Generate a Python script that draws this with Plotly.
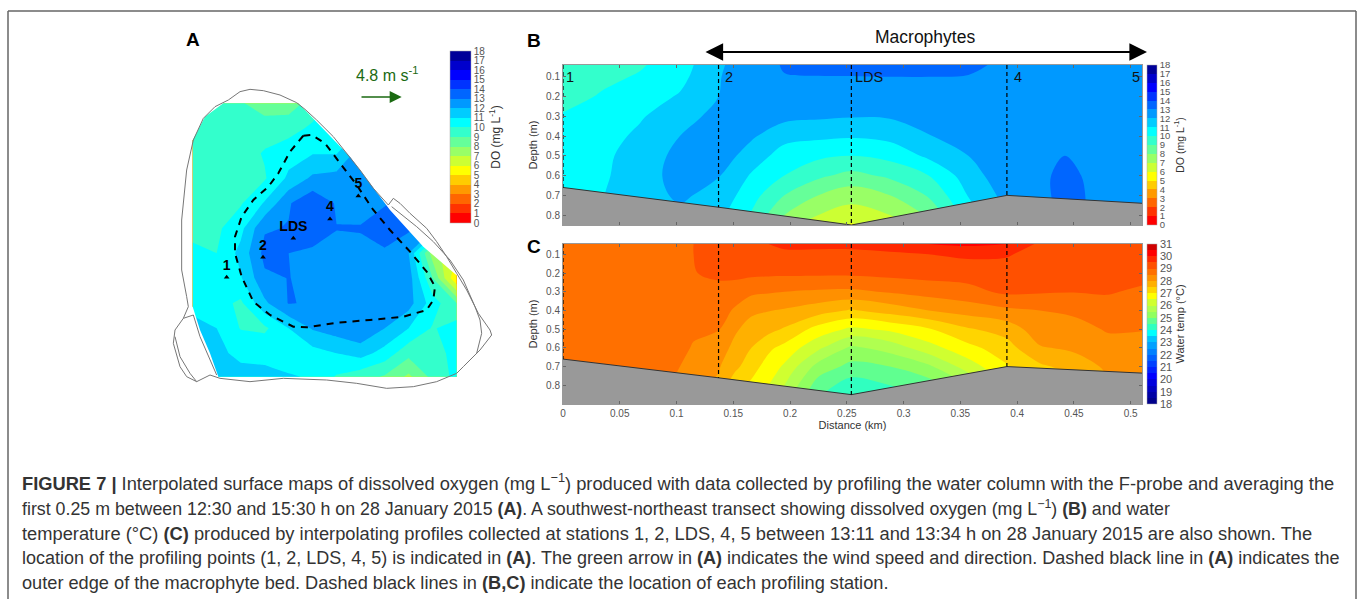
import plotly.graph_objects as go

W, H = 1362, 599

# ---- Panel A data (map units) ----
map_x = [68, 140, 212, 284, 356, 428, 500, 572, 644, 716, 788, 860]
map_y = [250, 325, 400, 475, 550, 625, 700, 775, 850, 925, 1000, 1070]
map_do = [
    [9.5, 9.5, 9.1, 8.5, 8.5, 9.4, 10.5, 11, 11, 11, 11, 11],
    [9.5, 9.5, 9.5, 9.5, 9.6, 10.2, 10.8, 11, 11.5, 12, 12, 12],
    [9.4, 9.4, 9.5, 10.1, 10.6, 10.95, 10.95, 12.5, 13, 13, 13, 13],
    [9.5, 9.5, 9.5, 9.9, 11.2, 12.2, 12.4, 12.8, 13, 13, 13, 13],
    [9.5, 9.5, 9.9, 11.1, 12.9, 13.8, 12.9, 12.7, 12.9, 13.5, 13.5, 13.5],
    [9.6, 9.8, 10.7, 12.9, 13.05, 13.3, 13.02, 13.05, 13.7, 13.2, 12.5, 12],
    [10.3, 10.0, 11.3, 13.3, 13.0, 12.9, 12.8, 12.8, 12.8, 12.0, 7.5, 6],
    [10.6, 10.0, 10.9, 12.8, 13.02, 12.8, 12.8, 12.8, 12.8, 12.5, 9.0, 5.0],
    [10.8, 10.4, 9.8, 11.8, 13.05, 12.9, 12.8, 12.8, 12.7, 12.4, 10.5, 9.0],
    [11.2, 11.0, 9.95, 9.8, 11.0, 12.1, 12.5, 12.9, 12.0, 11.0, 9.9, 10.5],
    [11.5, 11.2, 10.8, 10.8, 10.4, 10.6, 11.0, 11.4, 10.6, 9.3, 9.5, 10.4],
    [11.5, 11.5, 11.3, 11.2, 11.1, 10.9, 9.9, 9.4, 8.9, 7.8, 9.3, 10.3],
]
shore_x = [240,280,330,380,405,440,490,530,570,610,655,670,690,720,770,800,830,860,890,925,960,965,930,880,860,800,730,650,560,470,340,240,150,120,80,50,30,10,15,40,55,50,35,35,50,70,100,135,175,210,240]
shore_y = [208,212,225,248,268,300,350,400,450,505,555,535,550,580,625,665,710,760,810,880,930,945,990,1040,1060,1085,1100,1105,1090,1080,1075,1085,1075,1065,1085,1070,1040,970,930,895,860,830,750,600,450,360,295,260,240,215,208]
shore2_x = [665,740,790,840,880,915,930,935,920,890]
shore2_y = [560,620,665,720,780,860,900,940,1000,1030]
shore3_x = [40,70,90,120,140]
shore3_y = [895,885,950,1020,1065]
shore4_x = [15,30,60,80]
shore4_y = [950,1010,1060,1085]
bed_x = [400,425,465,510,560,610,660,720,770,795,790,770,700,600,500,410,370,300,250,215,195,195,215,250,295,325,360,400]
bed_y = [347,345,370,430,495,570,630,695,755,800,840,870,890,900,908,922,920,885,845,770,700,650,590,540,500,460,395,347]
station_names = ["1", "2", "LDS", "4", "5"]
station_map_x = [170, 279, 370, 480, 565]
station_map_y = [772, 712, 655, 597, 528]
mask_nw_x = [60,60,68,105,160,160]
mask_nw_y = [240,360,360,290,250,240]
mask_ne_x = [385,385,405,540,660,760,865,870]
mask_ne_y = [245,250,270,410,570,680,770,240]
mask_sw_x = [60,68,90,120,145,145,60]
mask_sw_y = [860,860,930,1000,1070,1080,1080]

# ---- Panel B data ----
station_km = [0, 0.137, 0.254, 0.391, 0.51]
bottom_b = [0.66, 0.76, 0.85, 0.70, 0.74]
bottom_c = [0.66, 0.76, 0.85, 0.70, 0.735]
do_x = [0, .034, .068, .103, .137, .166, .195, .225, .254, .288, .322, .357, .391, .425, .442, .46, .51]
do_depth = [.04, .1, .2, .3, .4, .5, .6, .7, .8, .85]
do_cols = [
    [9.2, 9.3, 9.6, 10.1, 10.3, 10.5, 10.6, 10.7, 10.8, 10.8],
    [9.5, 9.75, 10.1, 10.4, 10.6, 10.8, 10.85, 10.95, 11, 11],
    [9.9, 10.1, 10.5, 10.9, 11.2, 11.4, 11.5, 11.6, 11.6, 11.6],
    [10.5, 10.7, 11.1, 11.6, 12.0, 12.3, 12.4, 12.15, 11.8, 11.7],
    [11.9, 11.95, 12.0, 12.3, 12.6, 12.6, 12.05, 11.7, 11.3, 11.1],
    [12.4, 12.5, 12.6, 12.6, 12.15, 11.5, 10.9, 10.4, 9.9, 9.6],
    [13.1, 12.95, 12.8, 12.3, 11.3, 10.6, 10, 9, 8, 7.4],
    [13.3, 12.97, 12.7, 12.15, 11.2, 10.2, 9.2, 8, 7, 6.5],
    [13.4, 12.97, 12.7, 12.05, 11.1, 10, 8.7, 7.4, 6.5, 5.9],
    [13.4, 13.0, 12.8, 12.1, 11.3, 10.3, 9.2, 8, 7, 6.4],
    [13.4, 13.0, 12.9, 12.5, 11.95, 11.2, 10, 9.1, 8.1, 7.6],
    [13.1, 12.98, 12.9, 12.7, 12.4, 12, 11.5, 11.05, 10.5, 10],
    [12.9, 12.9, 12.9, 12.9, 12.85, 12.8, 12.7, 12.35, 12, 11.8],
    [12.85, 12.85, 12.85, 12.85, 12.88, 12.9, 12.95, 12.95, 12.9, 12.9],
    [12.85, 12.85, 12.85, 12.85, 12.9, 13.0, 13.12, 13.12, 13.1, 13.1],
    [12.8, 12.8, 12.8, 12.85, 12.88, 12.92, 12.97, 13.0, 13, 13],
    [12.7, 12.7, 12.7, 12.7, 12.7, 12.7, 12.7, 12.7, 12.7, 12.7],
]

# ---- Panel C data ----
temp_x = [0, .034, .068, .1, .115, .137, .151, .166, .181, .195, .225, .254, .288, .322, .357, .391, .42, .45, .48, .51]
temp_depth = [.045, .1, .2, .3, .4, .5, .6, .7, .8, .9]
temp_cols = [
    [28.8]*10,
    [28.8]*10,
    [28.8]*10,
    [28.9, 28.9, 28.9, 28.85, 28.8, 28.75, 28.7, 28.55, 28.4, 28.2],
    [29, 29, 28.98, 28.8, 28.7, 28.6, 28.45, 28.3, 28.2, 28.1],
    [29.3, 29.3, 29.1, 28.85, 28.7, 28.52, 28.3, 28.05, 27.9, 27.8],
    [29.4, 29.35, 29.15, 28.75, 28.45, 28.1, 27.85, 27.65, 27.2, 26.9],
    [29.5, 29.35, 29.12, 28.6, 28.12, 27.75, 27.5, 27.2, 26.9, 26.6],
    [29.5, 29.38, 29.1, 28.55, 28.02, 27.65, 27.1, 26.8, 26.5, 26.2],
    [29.6, 29.4, 29.1, 28.5, 27.95, 27.45, 26.85, 26.42, 26, 25.6],
    [29.6, 29.4, 29.1, 28.43, 27.72, 26.8, 26.1, 25.3, 24.75, 24.4],
    [29.6, 29.4, 29.1, 28.4, 27.45, 26.4, 25.4, 24.85, 24.25, 23.8],
    [29.8, 29.4, 29.15, 28.55, 27.72, 26.6, 25.7, 25.0, 24.5, 24.0],
    [30, 29.5, 29.2, 28.7, 28, 26.95, 26.3, 25.4, 24.75, 24.3],
    [30.1, 29.6, 29.2, 28.85, 28.2, 27.45, 26.85, 26.25, 25.5, 25],
    [30, 29.55, 29.25, 29.1, 28.4, 27.7, 27.3, 26.95, 26.5, 26],
    [29.4, 29.3, 29.15, 29.05, 28.5, 28.3, 27.95, 27.4, 27, 26.8],
    [29.35, 29.3, 29.2, 29.02, 28.6, 28.3, 28.1, 27.7, 27.3, 27.1],
    [29.3, 29.25, 29.15, 29.05, 28.75, 28.55, 28.3, 28.1, 27.9, 27.7],
    [29.3, 29.25, 29.2, 28.9, 28.7, 28.52, 28.35, 28.2, 28.1, 28],
]

# ---- Colours and tick labels ----
do_colors = ["#ff0000","#ff3300","#ff6600","#ff9900","#ffcc00","#ffff00","#ccff33","#99ff66","#66ff99",
             "#33ffcc","#00ffff","#00ccff","#0099ff","#0066ff","#0033ff","#0000ff","#0000cc","#000099"]
temp_colors = ["#00008c","#0000a5","#0000c0","#0000dd","#0000ff","#0020ff","#0040ff","#0060ff","#0080ff",
               "#00a0ff","#00c4ff","#00ffff","#30ffc0","#60ff90","#90ff60","#b0ff50","#d0ff30","#ffff00",
               "#ffd500","#ffb000","#ff9000","#ff7000","#ff5000","#ff2800","#ff0000","#d00000"]
do_ticks = list(range(0, 19))
temp_ticks = list(range(18, 32))
depth_ticks = [0.1, 0.2, 0.3, 0.4, 0.5, 0.6, 0.7, 0.8]
km_ticks = [0, 0.05, 0.1, 0.15, 0.2, 0.25, 0.3, 0.35, 0.4, 0.45, 0.5]
km_labels = ["0", "0.05", "0.1", "0.15", "0.2", "0.25", "0.3", "0.35", "0.4", "0.45", "0.5"]

caption = [
    "<b>FIGURE 7 |</b> Interpolated surface maps of dissolved oxygen (mg L<sup>−1</sup>) produced with data collected by profiling the water column with the F-probe and averaging the",
    "first 0.25 m between 12:30 and 15:30 h on 28 January 2015 <b>(A)</b>. A southwest-northeast transect showing dissolved oxygen (mg L<sup>−1</sup>) <b>(B)</b> and water",
    "temperature (°C) <b>(C)</b> produced by interpolating profiles collected at stations 1, 2, LDS, 4, 5 between 13:11 and 13:34 h on 28 January 2015 are also shown. The",
    "location of the profiling points (1, 2, LDS, 4, 5) is indicated in <b>(A)</b>. The green arrow in <b>(A)</b> indicates the wind speed and direction. Dashed black line in <b>(A)</b> indicates the",
    "outer edge of the macrophyte bed. Dashed black lines in <b>(B,C)</b> indicate the location of each profiling station.",
]
caption_sizes = [18.3, 17.8, 18.3, 18.0, 18.2]

FONT = "Liberation Sans"
GREY = "#555555"


def px(x):
    return x / W


def py(y):
    return 1 - y / H


def fill_steps(colors):
    """Step colorscale matching Plotly's fill-contour colour lookup."""
    n = len(colors)
    out = []
    for i, c in enumerate(colors):
        a = 0 if i == 0 else (i + 0.5) / (n + 1)
        b = 1 if i == n - 1 else (i + 1.5) / (n + 1)
        out += [[a, c], [b, c]]
    return out


def bar_steps(colors):
    n = len(colors)
    out = []
    for i, c in enumerate(colors):
        out += [[i / n, c], [(i + 1) / n, c]]
    return out


def add_colorbar(x0, x1, y0, y1, ticks, colors, title, size, title_size):
    """Discrete colour key carried by an empty marker trace, so its ends fall on the first and last ticks."""
    fig.add_trace(go.Scatter(
        x=[None], y=[None], mode="markers", hoverinfo="skip",
        marker=dict(
            color=[ticks[0]], cmin=ticks[0], cmax=ticks[-1], colorscale=bar_steps(colors), showscale=True,
            colorbar=dict(
                x=px(x0), xanchor="left", xpad=0,
                y=py(y0), yanchor="top", ypad=0,
                thickness=x1 - x0, thicknessmode="pixels",
                len=y1 - y0, lenmode="pixels",
                tickmode="array", tickvals=ticks, ticktext=[str(t) for t in ticks],
                ticks="", ticklen=0,
                tickfont=dict(family=FONT, size=size, color=GREY),
                outlinewidth=0.5, outlinecolor="#aaaaaa",
                title=dict(text=title, side="right", font=dict(family=FONT, size=title_size, color="#333333")),
            ),
        ),
    ))


def transpose(cols):
    return [list(r) for r in zip(*cols)]


fig = go.Figure()

# ---- Panel A ----
fig.add_trace(go.Contour(
    x=map_x, y=map_y, z=map_do, xaxis="x3", yaxis="y3", autocontour=False,
    contours=dict(start=0, end=18, size=1, coloring="fill", showlines=False),
    line=dict(width=0, smoothing=0), colorscale=fill_steps(do_colors), showscale=False,
    hoverinfo="skip",
))
for mx, my in ((mask_nw_x, mask_nw_y), (mask_ne_x, mask_ne_y), (mask_sw_x, mask_sw_y)):
    fig.add_trace(go.Scatter(x=mx, y=my, xaxis="x3", yaxis="y3", mode="lines", fill="toself",
                             fillcolor="white", line=dict(width=0), hoverinfo="skip"))
for sx, sy in ((shore_x, shore_y), (shore2_x, shore2_y), (shore3_x, shore3_y), (shore4_x, shore4_y)):
    fig.add_trace(go.Scatter(x=sx, y=sy, xaxis="x3", yaxis="y3", mode="lines",
                             line=dict(color="#777777", width=1), hoverinfo="skip"))
fig.add_trace(go.Scatter(x=bed_x, y=bed_y, xaxis="x3", yaxis="y3", mode="lines",
                         line=dict(color="black", width=2, dash="7px,6px"), hoverinfo="skip"))
fig.add_trace(go.Scatter(x=station_map_x, y=station_map_y, xaxis="x3", yaxis="y3", mode="markers+text",
                         marker=dict(symbol="triangle-up", size=5, color="black"),
                         text=station_names, textposition="top center",
                         textfont=dict(family=FONT, size=14, color="black", weight="bold"),
                         hoverinfo="skip"))
add_colorbar(449.5, 470, 51, 223, do_ticks, do_colors, "DO (mg L<sup>-1</sup>)", 10, 12)

# ---- Panel B ----
fig.add_trace(go.Contour(
    x=do_x, y=do_depth, z=transpose(do_cols), xaxis="x", yaxis="y", autocontour=False,
    contours=dict(start=0, end=18, size=1, coloring="fill", showlines=False),
    line=dict(width=0, smoothing=1), colorscale=fill_steps(do_colors), showscale=False,
    hoverinfo="skip",
))
fig.add_trace(go.Scatter(x=[0] + station_km + [0.51], y=[0.85] + bottom_b + [0.85], xaxis="x", yaxis="y",
                         mode="lines", fill="toself", fillcolor="#999999", line=dict(width=0), hoverinfo="skip"))
fig.add_trace(go.Scatter(x=station_km, y=bottom_b, xaxis="x", yaxis="y", mode="lines",
                         line=dict(color="#333333", width=1), hoverinfo="skip"))
add_colorbar(1146.5, 1156, 65, 225, do_ticks, do_colors, "DO (mg L<sup>-1</sup>)", 9.5, 10.5)

# ---- Panel C ----
fig.add_trace(go.Contour(
    x=temp_x, y=temp_depth, z=transpose(temp_cols), xaxis="x2", yaxis="y2", autocontour=False,
    contours=dict(start=18, end=31, size=0.5, coloring="fill", showlines=False),
    line=dict(width=0, smoothing=1), colorscale=fill_steps(temp_colors), showscale=False,
    hoverinfo="skip",
))
fig.add_trace(go.Scatter(x=[0] + station_km + [0.51], y=[0.9] + bottom_c + [0.9], xaxis="x2", yaxis="y2",
                         mode="lines", fill="toself", fillcolor="#999999", line=dict(width=0), hoverinfo="skip"))
fig.add_trace(go.Scatter(x=station_km, y=bottom_c, xaxis="x2", yaxis="y2", mode="lines",
                         line=dict(color="#333333", width=1), hoverinfo="skip"))
add_colorbar(1146.5, 1156, 244, 404, temp_ticks, temp_colors, "Water temp (°C)", 11, 11)

# Station lines in B and C
for i in range(4):
    km = station_km[i]
    fig.add_trace(go.Scatter(x=[km, km], y=[0.04, bottom_b[i]], xaxis="x", yaxis="y", mode="lines",
                             line=dict(color="black", width=1.2, dash="4px,3px"), hoverinfo="skip"))
    fig.add_trace(go.Scatter(x=[km, km], y=[0.045, bottom_c[i]], xaxis="x2", yaxis="y2", mode="lines",
                             line=dict(color="black", width=1.2, dash="4px,3px"), hoverinfo="skip"))

annotations = []


def note(x, y, text, size, color="black", anchor="center", **kw):
    annotations.append(dict(xref="paper", yref="paper", x=px(x), y=py(y), text=text, showarrow=False,
                            xanchor=anchor, yanchor="middle",
                            font=dict(family=kw.pop("family", FONT), size=size, color=color), **kw))


note(193, 40, "<b>A</b>", 19)
note(534, 41, "<b>B</b>", 19)
note(534, 246, "<b>C</b>", 19)
note(925, 37, "Macrophytes", 17.5, "#111111")
note(387, 74, "4.8 m s<sup>-1</sup>", 16, "#1b6a12")

# Labels of the stations in panel B
for name, km, off in zip(station_names, station_km, (7, 10, 18, 11, -6)):
    annotations.append(dict(xref="x", yref="y", x=km, y=0.1, text=name, showarrow=False, xshift=off,
                            font=dict(family=FONT, size=14.5, color="#111111")))

# Wind arrow (map units) and macrophyte arrow (paper)
annotations.append(dict(xref="x3", yref="y3", axref="x3", ayref="y3", x=695, y=231, ax=570, ay=231, text="",
                        showarrow=True, arrowhead=2, arrowsize=1.6, arrowwidth=1.5, arrowcolor="#1b6a12"))
annotations.append(dict(xref="paper", yref="paper", axref="pixel", ayref="pixel", x=px(1147), y=py(52),
                        ax=-443, ay=0, text="", showarrow=True, arrowhead=2, arrowside="end+start",
                        arrowsize=1.6, arrowwidth=2.2, arrowcolor="black"))

for i, line in enumerate(caption):
    note(20, [482, 508, 533, 558, 583][i], line, caption_sizes[i], "#333333", anchor="left")

axis_common = dict(showgrid=False, zeroline=False, showline=True, linecolor="#999999", linewidth=1,
                   mirror="ticks", ticks="inside", ticklen=3, tickcolor="#666666",
                   tickfont=dict(family=FONT, size=10, color=GREY))
title_font = dict(family=FONT, size=11, color="#333333")

fig.update_layout(
    width=W, height=H, margin=dict(l=0, r=0, t=0, b=0, autoexpand=False), paper_bgcolor="white", plot_bgcolor="white",
    showlegend=False, annotations=annotations,
    xaxis=dict(domain=[px(563), px(1142)], range=[0, 0.51], tickmode="array", tickvals=km_ticks,
               showticklabels=False, anchor="y", **axis_common),
    yaxis=dict(domain=[py(225), py(65)], range=[0.85, 0.04], tickmode="array", tickvals=depth_ticks,
               ticktext=[str(t) for t in depth_ticks], anchor="x",
               title=dict(text="Depth (m)", font=title_font, standoff=6), **axis_common),
    xaxis2=dict(domain=[px(563), px(1142)], range=[0, 0.51], tickmode="array", tickvals=km_ticks, ticktext=km_labels,
                anchor="y2", title=dict(text="Distance (km)", font=title_font, standoff=2), **axis_common),
    yaxis2=dict(domain=[py(404), py(244)], range=[0.9, 0.045], tickmode="array", tickvals=depth_ticks,
                ticktext=[str(t) for t in depth_ticks], anchor="x2",
                title=dict(text="Depth (m)", font=title_font, standoff=6), **axis_common),
    xaxis3=dict(domain=[px(170), px(510)], range=[0, 1020], visible=False, anchor="y3"),
    yaxis3=dict(domain=[py(400), py(20)], range=[1140, 0], visible=False, anchor="x3"),
    shapes=[
        dict(type="line", xref="paper", yref="paper", x0=px(8), x1=px(1356), y0=py(11), y1=py(11),
             line=dict(color="#666666", width=1.5)),
        dict(type="line", xref="paper", yref="paper", x0=px(8), x1=px(8), y0=py(11), y1=0,
             line=dict(color="#666666", width=1.5)),
        dict(type="line", xref="paper", yref="paper", x0=px(1356), x1=px(1356), y0=py(11), y1=0,
             line=dict(color="#666666", width=1.5)),
    ],
)

fig.write_html("out.html", post_script="document.body.style.margin='0';", config=dict(displayModeBar=False))
